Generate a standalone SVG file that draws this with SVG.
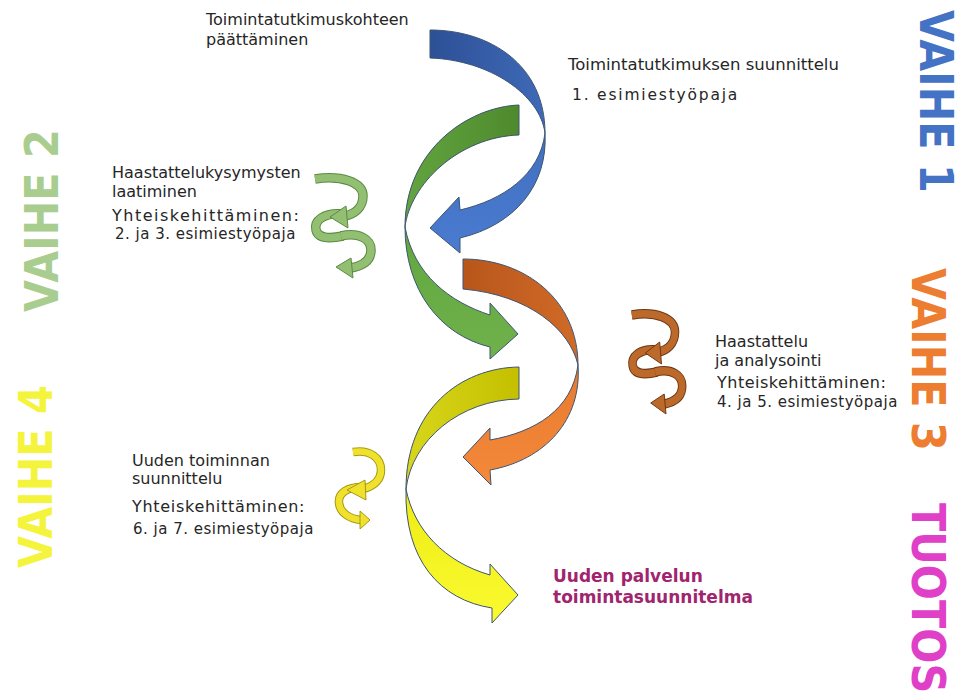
<svg xmlns="http://www.w3.org/2000/svg" width="963" height="697" viewBox="0 0 963 697">
<defs>
<style>
.t{font-family:"DejaVu Sans","Liberation Sans",sans-serif;font-size:16px;fill:#262626}
.es{font-size:15px;letter-spacing:0.5px}
.out{font-family:"DejaVu Sans","Liberation Sans",sans-serif;font-size:17px;font-weight:bold;fill:#A0246E}
.v{font-family:"DejaVu Sans","Liberation Sans",sans-serif;font-size:46px;font-weight:bold}
.ar{stroke:#3D5470;stroke-width:1;stroke-linejoin:round}
.band{fill:none;stroke-linecap:butt}
.go{stroke:#5A8A42;stroke-width:9.5}
.gf{stroke:#93BF73;stroke-width:7.5}
.gh{fill:#93BF73;stroke:#5A8A42;stroke-width:1}
.oo{stroke:#6E3510;stroke-width:9.5}
.of{stroke:#BC6A2C;stroke-width:7.5}
.oh{fill:#BC6A2C;stroke:#6E3510;stroke-width:1}
.yo{stroke:#A69A14;stroke-width:8.5}
.yf{stroke:#F0E22C;stroke-width:6.5}
.yhd{fill:#F0E22C;stroke:#A69A14;stroke-width:1}
</style>
<linearGradient id="bU" x1="0" y1="0" x2="1" y2="0"><stop offset="0" stop-color="#2D5096"/><stop offset="1" stop-color="#3F6AB8"/></linearGradient>
<linearGradient id="bL" x1="0" y1="0" x2="0" y2="1"><stop offset="0" stop-color="#4270C0"/><stop offset="1" stop-color="#4A7BD0"/></linearGradient>
<linearGradient id="gU" x1="1" y1="0" x2="0" y2="0"><stop offset="0" stop-color="#4E8A2D"/><stop offset="1" stop-color="#62A43F"/></linearGradient>
<linearGradient id="gL" x1="0" y1="0" x2="0" y2="1"><stop offset="0" stop-color="#62A640"/><stop offset="1" stop-color="#6FB24C"/></linearGradient>
<linearGradient id="oU" x1="0" y1="0" x2="1" y2="0"><stop offset="0" stop-color="#B8561B"/><stop offset="1" stop-color="#D06A27"/></linearGradient>
<linearGradient id="oL" x1="0" y1="0" x2="0" y2="1"><stop offset="0" stop-color="#E77A2F"/><stop offset="1" stop-color="#F5893A"/></linearGradient>
<linearGradient id="yU" x1="1" y1="0" x2="0" y2="0"><stop offset="0" stop-color="#C4C000"/><stop offset="1" stop-color="#D8D61C"/></linearGradient>
<linearGradient id="yL" x1="0" y1="0" x2="0" y2="1"><stop offset="0" stop-color="#EEEC14"/><stop offset="1" stop-color="#FAFA30"/></linearGradient>
</defs>
<rect width="963" height="697" fill="#FFFFFF"/>

<g id="connectors">
  <g id="arrow-yellow">
    <path class="ar" fill="url(#yU)" d="M519,367 C460,368 406,410 406,489 C412,440 460,400 519,399 Z"/>
    <path class="ar" fill="url(#yL)" d="M406,489 C404,560 440,600 492,608 L492,623 L518,595 L490,564 L490,575 C445,562 414,530 406,489 Z"/>
  </g>
  <g id="arrow-orange">
    <path class="ar" fill="url(#oU)" d="M463,259 C525,259 578,300 578,365 C570,330 530,295 463,289 Z"/>
    <path class="ar" fill="url(#oL)" d="M578,365 C582,420 545,460 490,470 L491,485 L463,457 L490,428 L490,440 C535,432 572,410 578,365 Z"/>
  </g>
  <g id="arrow-green">
    <path class="ar" fill="url(#gU)" d="M519,105 C468,107 405,150 405,227 C410,185 458,137 519,135 Z"/>
    <path class="ar" fill="url(#gL)" d="M405,227 C405,290 440,335 490,347 L490,359 L518,334 L490,303 L490,315 C450,302 414,275 405,227 Z"/>
  </g>
  <g id="arrow-blue">
    <path class="ar" fill="url(#bU)" d="M430,30 C490,30 545,65 545,133 C540,95 490,60 430,58 Z"/>
    <path class="ar" fill="url(#bL)" d="M545,133 C548,185 515,225 460,238 L460,253 L430,228 L459,197 L460,210 C503,200 540,175 545,133 Z"/>
  </g>
</g>

<g id="label-vaihe1"><text class="v" fill="#4472C4" transform="translate(920,10) rotate(90) scale(0.9,1)">VAIHE 1</text></g>
<g id="label-vaihe3"><text class="v" fill="#ED7D31" transform="translate(912,268) rotate(90) scale(0.9,1)">VAIHE 3</text></g>
<g id="label-tuotos"><text class="v" fill="#E040C8" transform="translate(912,503) rotate(90) scale(0.9,1)">TUOTOS</text></g>
<g id="label-vaihe2"><text class="v" fill="#A9CD8F" transform="translate(58,312) rotate(-90) scale(0.9,1)">VAIHE 2</text></g>
<g id="label-vaihe4"><text class="v" fill="#F4F43C" transform="translate(52,568) rotate(-90) scale(0.9,1)">VAIHE 4</text></g>

<g id="node-paattaminen">
  <text class="t" x="206" y="25">Toimintatutkimuskohteen</text>
  <text class="t" x="206" y="45">päättäminen</text>
</g>

<g id="node-suunnittelu">
  <text class="t" x="568" y="70" style="font-size:16.5px">Toimintatutkimuksen suunnittelu</text>
  <text class="t" x="572" y="100" style="font-size:15.5px;letter-spacing:1.8px">1. esimiestyöpaja</text>
</g>

<g id="node-haastattelukysymykset">
  <text class="t" x="112" y="178">Haastattelukysymysten</text>
  <text class="t" x="112" y="197">laatiminen</text>
  <text class="t" x="112" y="221" style="letter-spacing:1.5px">Yhteiskehittäminen:</text>
  <text class="t es" x="115" y="239">2. ja 3. esimiestyöpaja</text>
  <g id="icon-green" transform="translate(313,174)">
    <path class="band go" d="M31,40 C10,38 1,47 3,56 C5,64 16,65 30,62"/>
    <path class="band gf" d="M31,40 C10,38 1,47 3,56 C5,64 16,65 30,62"/>
    <path class="band go" d="M28,62 C46,58 58,65 58,76 C58,87 49,92 38,94"/>
    <path class="band gf" d="M28,62 C46,58 58,65 58,76 C58,87 49,92 38,94"/>
    <polygon class="gh" points="38,84 23,93 40,104"/>
    <path class="band go" d="M2,5 C28,1 50,8 50,22 C50,34 41,40 32,42"/>
    <path class="band gf" d="M2,5 C28,1 50,8 50,22 C50,34 41,40 32,42"/>
    <polygon class="gh" points="33,32 17,43 35,54"/>
  </g>
</g>

<g id="node-haastattelu">
  <text class="t" x="715" y="347">Haastattelu</text>
  <text class="t" x="715" y="366">ja analysointi</text>
  <text class="t" x="717" y="388" style="letter-spacing:0.5px">Yhteiskehittäminen:</text>
  <text class="t es" x="717" y="407">4. ja 5. esimiestyöpaja</text>
  <g id="icon-orange" transform="translate(630,310) scale(0.9,1)">
    <path class="band oo" d="M31,40 C10,38 1,47 3,56 C5,64 16,65 30,62"/>
    <path class="band of" d="M31,40 C10,38 1,47 3,56 C5,64 16,65 30,62"/>
    <path class="band oo" d="M28,62 C46,58 58,65 58,76 C58,87 49,92 38,94"/>
    <path class="band of" d="M28,62 C46,58 58,65 58,76 C58,87 49,92 38,94"/>
    <polygon class="oh" points="38,84 23,93 40,104"/>
    <path class="band oo" d="M2,5 C28,1 50,8 50,22 C50,34 41,40 32,42"/>
    <path class="band of" d="M2,5 C28,1 50,8 50,22 C50,34 41,40 32,42"/>
    <polygon class="oh" points="33,32 17,43 35,54"/>
  </g>
</g>

<g id="node-uusi-toiminta">
  <text class="t" x="132" y="466">Uuden toiminnan</text>
  <text class="t" x="132" y="484">suunnittelu</text>
  <text class="t" x="132" y="512" style="letter-spacing:0.7px">Yhteiskehittäminen:</text>
  <text class="t es" x="133" y="534">6. ja 7. esimiestyöpaja</text>
  <g id="icon-yellow" transform="translate(338,446)">
    <path class="band yo" d="M28,41 C8,40 0,48 1,57 C2,67 12,73 23,74"/>
    <path class="band yf" d="M28,41 C8,40 0,48 1,57 C2,67 12,73 23,74"/>
    <polygon class="yhd" points="22,65 32,74 22,83"/>
    <path class="band yo" d="M15,6 C32,3 43,12 43,24 C43,35 35,40 26,43"/>
    <path class="band yf" d="M15,6 C32,3 43,12 43,24 C43,35 35,40 26,43"/>
    <polygon class="yhd" points="27,34 9,44 28,54"/>
  </g>
</g>

<g id="node-tuotos">
  <text class="out" x="553" y="582">Uuden palvelun</text>
  <text class="out" x="553" y="603">toimintasuunnitelma</text>
</g>
</svg>
